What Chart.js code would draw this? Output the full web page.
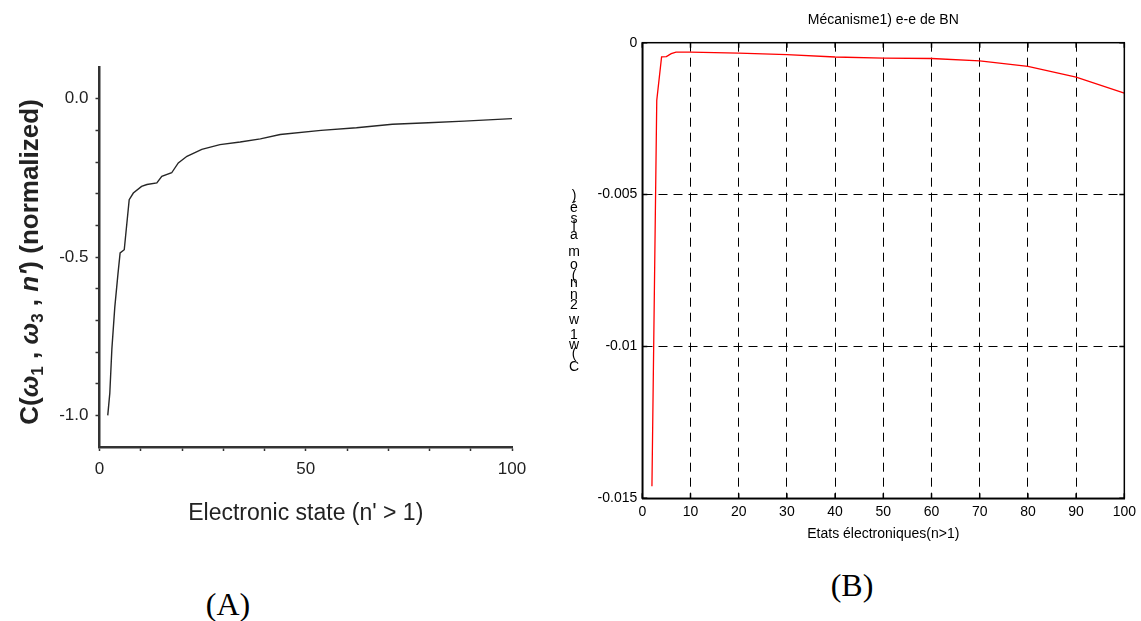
<!DOCTYPE html>
<html>
<head>
<meta charset="utf-8">
<script src="https://cdn.jsdelivr.net/npm/chart.js@4.4.1/dist/chart.umd.min.js"></script>
<style>
  body { margin: 0; background: #fff; width: 1141px; height: 621px; position: relative; overflow: hidden; }
  canvas { position: absolute; top: 0; }
  #chartA { left: 0; }
  #chartB { left: 560px; }
  .panel { position: absolute; font-family: "Liberation Serif", "Times New Roman", serif; font-size: 32px; color: #000; transform: translate(-50%, -50%); }
</style>
</head>
<body>
<canvas id="chartA" width="560" height="560"></canvas>
<canvas id="chartB" width="581" height="560"></canvas>
<div class="panel" style="left:228px; top:604px">(A)</div>
<div class="panel" style="left:852px; top:585px">(B)</div>
<script>
// (A) courbe normalisée
const statesA = [2, 2.5, 3, 3.7, 4.5, 5, 6, 7.2, 8.2, 10.2, 11.5, 13.9, 15.1, 17.5, 19.1, 21.2, 24.8, 29.2, 34.1, 39, 43.8, 53.7, 62.3, 71, 79.7, 88.4, 100];
const coefA = [-1.0, -0.93, -0.79, -0.66, -0.55, -0.487, -0.477, -0.319, -0.298, -0.277, -0.271, -0.266, -0.245, -0.234, -0.203, -0.182, -0.160, -0.145, -0.137, -0.127, -0.113, -0.100, -0.092, -0.081, -0.076, -0.071, -0.063];
const xLabelsA = [0, 50, 100];
const yLabelsA = [0, -0.5, -1.0];
// titre Y de (A) : morceaux avec italique / indice
const yTitleSegA = [
  { t: 'C(' }, { t: 'ω', it: true }, { t: '1', sub: true }, { t: ' , ' },
  { t: 'ω', it: true }, { t: '3', sub: true }, { t: ' , ' },
  { t: "n'", it: true }, { t: ') (normalized)' }
];

// (B) Mécanisme1) e-e de BN
const statesB = [2, 3, 4, 5, 6, 7, 10, 20, 30, 40, 50, 60, 70, 80, 90, 100];
const coefB = [-0.0146, -0.0019, -0.00047, -0.00046, -0.00036, -0.00031, -0.00031, -0.00034, -0.00039, -0.00047, -0.00051, -0.00052, -0.0006, -0.00078, -0.00113, -0.00166];
const xTicksB = [0, 10, 20, 30, 40, 50, 60, 70, 80, 90, 100];
const yTicksB = [0, -0.005, -0.01, -0.015];
const titleB = 'Mécanisme1) e-e de BN';
// étiquette Y (caractères empilés comme dans l'original)
const yLabelCharsB = [[')', 196], ['é', 208], ['s', 219], ['l', 227], ['a', 235], ['m', 252], ['o', 265], ['(', 276], ['n', 283], ['n', 295], ['2', 305], ['w', 320], ['1', 335], ['w', 345], ['(', 354], ['C', 367]];

const sans = '"Liberation Sans", Arial, sans-serif';

const yTitleA = {
  id: 'yTitleA',
  afterDraw(chart) {
    const { ctx } = chart;
    const fontOf = s => `${s.it ? 'italic ' : ''}bold ${s.sub ? 17 : 26}px ${sans}`;
    ctx.save();
    ctx.translate(31, 262);
    ctx.rotate(-Math.PI / 2);
    ctx.fillStyle = '#222';
    ctx.textBaseline = 'middle';
    ctx.textAlign = 'left';
    const total = yTitleSegA.reduce((w, s) => { ctx.font = fontOf(s); return w + ctx.measureText(s.t).width; }, 0);
    let x = -total / 2;
    yTitleSegA.forEach(s => {
      ctx.font = fontOf(s);
      ctx.fillText(s.t, x, s.sub ? 7 : 0);
      x += ctx.measureText(s.t).width;
    });
    ctx.restore();
  }
};

new Chart(document.getElementById('chartA'), {
  type: 'line',
  data: {
    datasets: [{
      data: statesA.map((x, i) => ({ x, y: coefA[i] })),
      borderColor: '#262626',
      borderWidth: 1.4,
      pointRadius: 0,
      tension: 0
    }]
  },
  options: {
    responsive: false,
    animation: false,
    layout: { padding: { top: 67, right: 48, left: 0, bottom: 0 } },
    plugins: { legend: { display: false }, tooltip: { enabled: false } },
    scales: {
      x: {
        type: 'linear', min: 0, max: 100,
        afterFit: s => { s.height = 113; },
        ticks: {
          stepSize: 10, autoSkip: false, maxRotation: 0, padding: 8,
          color: '#222', font: { family: sans, size: 17 },
          callback: v => xLabelsA.includes(v) ? String(v) : ''
        },
        grid: { drawOnChartArea: false, tickLength: 4, tickColor: '#333', tickWidth: 1.5 },
        border: { color: '#333', width: 2.5 },
        title: {
          display: true, text: "Electronic state (n' > 1)", color: '#222',
          font: { family: sans, size: 23 }, padding: { top: 0, bottom: 33 }
        }
      },
      y: {
        min: -1.1, max: 0.1,
        afterFit: s => { s.width = 99.5; },
        afterBuildTicks: s => { s.ticks = s.ticks.filter(t => t.value < 0.05 && t.value > -1.05); },
        ticks: {
          stepSize: 0.1, autoSkip: false, padding: 7,
          color: '#222', font: { family: sans, size: 17 },
          callback: v => {
            const r = Math.round(v * 10) / 10;
            return yLabelsA.includes(r) ? (r === 0 ? '0.0' : r.toFixed(1)) : '';
          }
        },
        grid: { drawOnChartArea: false, tickLength: 4, tickColor: '#333', tickWidth: 1.5 },
        border: { color: '#333', width: 2.5 }
      }
    }
  },
  plugins: [yTitleA]
});

// cadre, petites graduations intérieures, titre et étiquette Y de (B)
const frameB = {
  id: 'frameB',
  afterDraw(chart) {
    const { ctx, chartArea: a, scales: { x, y } } = chart;
    ctx.save();
    ctx.strokeStyle = '#000';
    ctx.lineWidth = 1.5;
    ctx.strokeRect(a.left, a.top, a.right - a.left, a.bottom - a.top);
    ctx.beginPath();
    xTicksB.forEach(v => {
      const px = x.getPixelForValue(v);
      ctx.moveTo(px, a.top); ctx.lineTo(px, a.top + 5);
      ctx.moveTo(px, a.bottom); ctx.lineTo(px, a.bottom - 5);
    });
    yTicksB.forEach(v => {
      const py = y.getPixelForValue(v);
      ctx.moveTo(a.left, py); ctx.lineTo(a.left + 5, py);
      ctx.moveTo(a.right, py); ctx.lineTo(a.right - 5, py);
    });
    ctx.stroke();
    ctx.fillStyle = '#000';
    ctx.font = '14px ' + sans;
    ctx.textAlign = 'center';
    ctx.textBaseline = 'middle';
    ctx.fillText(titleB, (a.left + a.right) / 2, 20);
    ctx.font = '14px ' + sans;
    yLabelCharsB.forEach(([c, py]) => ctx.fillText(c, 14, py));
    ctx.restore();
  }
};

new Chart(document.getElementById('chartB'), {
  type: 'line',
  data: {
    datasets: [{
      data: statesB.map((x, i) => ({ x, y: coefB[i] })),
      borderColor: 'rgb(255,0,0)',
      borderWidth: 1.3,
      pointRadius: 0,
      tension: 0
    }]
  },
  options: {
    responsive: false,
    animation: false,
    layout: { padding: { top: 42.7, right: 13.7, left: 0, bottom: 0 } },
    plugins: { legend: { display: false }, tooltip: { enabled: false } },
    scales: {
      x: {
        type: 'linear', min: 0, max: 100,
        afterFit: s => { s.height = 61.7; },
        ticks: {
          stepSize: 10, autoSkip: false, maxRotation: 0, padding: 5,
          color: '#000', font: { family: sans, size: 14 }
        },
        grid: { color: '#000', lineWidth: 1, drawTicks: false },
        border: { color: '#000', width: 1.5, dash: [9, 6] },
        title: {
          display: true, text: 'Etats électroniques(n>1)', color: '#000',
          font: { family: sans, size: 14 }, padding: { top: 0, bottom: 17.6 }
        }
      },
      y: {
        min: -0.015, max: 0,
        afterFit: s => { s.width = 82.3; },
        ticks: {
          stepSize: 0.005, autoSkip: false, padding: 5,
          color: '#000', font: { family: sans, size: 14 },
          callback: v => String(Math.round(v * 1000) / 1000 || 0)
        },
        grid: { color: '#000', lineWidth: 1, drawTicks: false },
        border: { color: '#000', width: 1.5, dash: [9, 6] }
      }
    }
  },
  plugins: [frameB]
});
</script>
</body>
</html>
